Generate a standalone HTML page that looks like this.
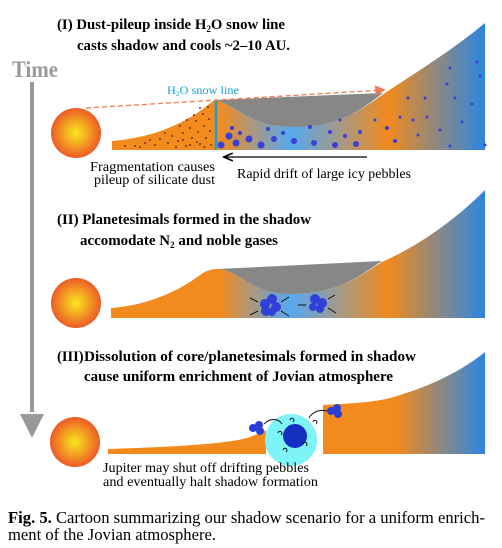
<!DOCTYPE html>
<html><head><meta charset="utf-8">
<style>
html,body{margin:0;padding:0;background:#fff;}
svg{display:block;}
text{font-family:"Liberation Serif",serif;}
</style></head>
<body>
<svg width="502" height="548" viewBox="0 0 502 548" xmlns="http://www.w3.org/2000/svg">
<defs>
<radialGradient id="sun" cx="50%" cy="50%" r="50%">
<stop offset="0" stop-color="#f7e81f"/><stop offset="0.55" stop-color="#f49a22"/><stop offset="1" stop-color="#ec5a26"/>
</radialGradient>
<linearGradient id="disk" x1="0" x2="1" gradientUnits="objectBoundingBox">
<stop offset="0" stop-color="#f28a1e"/><stop offset="0.29" stop-color="#f28a1e"/>
<stop offset="0.48" stop-color="#56a8f0"/><stop offset="0.74" stop-color="#f28a1e"/>
<stop offset="1" stop-color="#2b86e2"/>
</linearGradient>
<linearGradient id="disk3" x1="0" x2="1">
<stop offset="0" stop-color="#f28a1e"/><stop offset="0.45" stop-color="#f28a1e"/>
<stop offset="1" stop-color="#2b86e2"/>
</linearGradient>
<marker id="ah" markerWidth="8" markerHeight="8" refX="6" refY="4" orient="auto"><path d="M0,0 L8,4 L0,8 Z" fill="#f07a55"/></marker>
<marker id="ak" markerWidth="8" markerHeight="8" refX="6" refY="4" orient="auto"><path d="M0,1 L7,4 L0,7" fill="none" stroke="#000" stroke-width="1.2"/></marker>
</defs>

<text x="12" y="77" font-size="23" font-weight="bold" fill="#999" textLength="46" lengthAdjust="spacingAndGlyphs">Time</text>
<rect x="30" y="82" width="4" height="330" fill="#999"/>
<path d="M20,414 L44,414 L32,438 Z" fill="#999"/>

<g>
<text x="57" y="29" font-size="14.5" font-weight="bold" textLength="228" lengthAdjust="spacingAndGlyphs">(I) Dust-pileup inside H<tspan font-size="9" dy="3">2</tspan><tspan dy="-3">O snow line</tspan></text>
<text x="77" y="50" font-size="14.5" font-weight="bold" textLength="213" lengthAdjust="spacingAndGlyphs">casts shadow and cools ~2–10 AU.</text>
<circle cx="76" cy="133" r="25" fill="url(#sun)"/>
<path d="M112,150 L112,141 C150,138 185,125 213,101 L216,100 C240,108 250,126 290,127 C340,128 360,110 385,93 C420,70 455,48 485,23 L485,150 Z" fill="url(#disk)"/>
<path d="M216,100 L383,93 C360,110 340,128 290,127 C250,126 240,108 216,100 Z" fill="#878787"/>
<line x1="216" y1="100" x2="216" y2="150" stroke="#1aa0d8" stroke-width="2.5"/>
<line x1="86" y1="108" x2="383" y2="90" stroke="#f07a55" stroke-width="1.3" stroke-dasharray="5,3" marker-end="url(#ah)"/>
<text x="167" y="94" font-size="12" fill="#1aa0d8" textLength="72" lengthAdjust="spacingAndGlyphs">H<tspan font-size="7" dy="2">2</tspan><tspan dy="-2">O snow line</tspan></text>
<g fill="#6b3a10">
<circle cx="135" cy="146" r="1"/><circle cx="145" cy="143" r="1"/><circle cx="155" cy="145" r="1"/><circle cx="160" cy="139" r="1"/><circle cx="168" cy="143" r="1"/><circle cx="172" cy="136" r="1"/><circle cx="178" cy="141" r="1"/><circle cx="183" cy="133" r="1"/><circle cx="186" cy="146" r="1"/><circle cx="190" cy="128" r="1"/><circle cx="192" cy="138" r="1"/><circle cx="196" cy="121" r="1"/><circle cx="198" cy="132" r="1"/><circle cx="200" cy="144" r="1"/><circle cx="203" cy="114" r="1"/><circle cx="204" cy="126" r="1"/><circle cx="206" cy="138" r="1"/><circle cx="208" cy="107" r="1"/><circle cx="209" cy="119" r="1"/><circle cx="210" cy="131" r="1"/><circle cx="211" cy="145" r="1"/><circle cx="200" cy="108" r="1"/><circle cx="194" cy="115" r="1"/><circle cx="187" cy="120" r="1"/><circle cx="180" cy="126" r="1"/><circle cx="176" cy="147" r="1"/><circle cx="165" cy="133" r="1"/><circle cx="150" cy="140" r="1"/><circle cx="140" cy="147" r="1"/><circle cx="125" cy="146" r="1"/><circle cx="204" cy="147" r="1"/><circle cx="197" cy="142" r="1"/><circle cx="190" cy="145" r="1"/><circle cx="183" cy="140" r="1"/>
</g>
<g fill="#3840d8">
<circle cx="221" cy="145" r="3.5"/><circle cx="229" cy="136" r="3.5"/><circle cx="236" cy="143" r="3.5"/><circle cx="249" cy="139" r="3.5"/><circle cx="261" cy="145" r="3.5"/><circle cx="274" cy="139" r="3"/><circle cx="294" cy="141" r="3"/><circle cx="314" cy="143" r="3"/><circle cx="335" cy="145" r="3"/><circle cx="356" cy="144" r="3"/><circle cx="232" cy="128" r="2"/><circle cx="240" cy="133" r="2"/><circle cx="268" cy="129" r="2"/><circle cx="283" cy="133" r="2"/><circle cx="310" cy="127" r="2"/><circle cx="330" cy="132" r="2"/><circle cx="345" cy="136" r="2"/><circle cx="360" cy="132" r="2"/><circle cx="387" cy="128" r="2"/><circle cx="395" cy="141" r="2"/><circle cx="400" cy="117" r="1.5"/><circle cx="413" cy="120" r="1.5"/><circle cx="427" cy="117" r="1.5"/><circle cx="440" cy="130" r="1.5"/><circle cx="450" cy="146" r="1.5"/><circle cx="462" cy="122" r="1.5"/><circle cx="408" cy="98" r="1.5"/><circle cx="425" cy="98" r="1.5"/><circle cx="447" cy="84" r="1.5"/><circle cx="455" cy="98" r="1.5"/><circle cx="472" cy="104" r="1.5"/><circle cx="477" cy="62" r="1.5"/><circle cx="450" cy="68" r="1.5"/><circle cx="480" cy="76" r="1.5"/><circle cx="340" cy="120" r="1.5"/><circle cx="375" cy="120" r="1.5"/><circle cx="418" cy="135" r="1.5"/><circle cx="485" cy="145" r="1.5"/>
</g>
<line x1="367" y1="157" x2="225" y2="157" stroke="#000" stroke-width="1.3" marker-end="url(#ak)"/>
<text x="90" y="171" font-size="13.5" textLength="125" lengthAdjust="spacingAndGlyphs">Fragmentation causes</text>
<text x="94" y="184" font-size="13.5" textLength="121" lengthAdjust="spacingAndGlyphs">pileup of silicate dust</text>
<text x="237" y="178" font-size="13.5" textLength="174" lengthAdjust="spacingAndGlyphs">Rapid drift of large icy pebbles</text>
</g>

<g>
<text x="57" y="224" font-size="14.5" font-weight="bold" textLength="254" lengthAdjust="spacingAndGlyphs">(II) Planetesimals formed in the shadow</text>
<text x="80" y="245" font-size="14.5" font-weight="bold" textLength="198" lengthAdjust="spacingAndGlyphs">accomodate N<tspan font-size="9" dy="3">2</tspan><tspan dy="-3"> and noble gases</tspan></text>
<circle cx="76" cy="303" r="25" fill="url(#sun)"/>
<path d="M111,318 L111,308 C150,305 180,290 200,275 C208,269 215,269 218,269 C240,270 250,294 290,294 C340,294 360,275 382,262 C420,245 455,220 485,190 L485,318 Z" fill="url(#disk)"/>
<path d="M218,269 L382,261 C360,275 340,294 290,294 C250,294 240,270 218,269 Z" fill="#878787"/>
<g fill="#3040d8">
<circle cx="265" cy="304" r="5"/><circle cx="272" cy="299" r="5"/><circle cx="276" cy="307" r="5"/><circle cx="266" cy="311" r="5"/><circle cx="272" cy="312" r="4"/>
<circle cx="315" cy="299" r="5"/><circle cx="322" cy="303" r="5"/><circle cx="313" cy="307" r="4"/><circle cx="320" cy="309" r="4"/>
</g>
<g stroke="#111" stroke-width="1">
<line x1="250" y1="298" x2="258" y2="302"/><line x1="250" y1="315" x2="258" y2="311"/><line x1="289" y1="297" x2="281" y2="302"/><line x1="289" y1="316" x2="281" y2="311"/>
<line x1="298" y1="305" x2="306" y2="305"/><line x1="335" y1="295" x2="328" y2="299"/><line x1="336" y1="313" x2="328" y2="308"/>
</g>
</g>

<g>
<text x="57" y="361" font-size="14.5" font-weight="bold">(III)</text>
<text x="84" y="361" font-size="14.5" font-weight="bold" textLength="332" lengthAdjust="spacingAndGlyphs">Dissolution of core/planetesimals formed in shadow</text>
<text x="84" y="381" font-size="14.5" font-weight="bold" textLength="309" lengthAdjust="spacingAndGlyphs">cause uniform enrichment of Jovian atmosphere</text>
<circle cx="75" cy="442" r="25" fill="url(#sun)"/>
<path d="M108,454 L108,449 C170,447 230,444 250,437 C258,434 263,432 266,430 L266,454 Z" fill="#f28a1e"/>
<path d="M323,454 L323,405 C360,403 380,402 400,395 C430,386 460,372 485,352 L485,454 Z" fill="url(#disk3)"/>
<circle cx="291" cy="440" r="26" fill="#7ff4f8"/>
<circle cx="295" cy="436" r="12" fill="#1530c0"/>
<g fill="#2b3fd8">
<circle cx="253" cy="428" r="4"/><circle cx="259" cy="425" r="4"/><circle cx="260" cy="431" r="4"/>
<circle cx="331" cy="411" r="4"/><circle cx="337" cy="408" r="4"/><circle cx="338" cy="414" r="4"/>
</g>
<g fill="none" stroke="#111" stroke-width="1">
<path d="M264,424 C270,418 278,418 282,424"/><path d="M327,411 C320,409 312,412 309,418"/>
<path d="M290,420 a2,2 0 1 1 3,2"/><path d="M313,422 a2,2 0 1 1 3,2"/><path d="M278,433 a2,2 0 1 1 3,2"/><path d="M283,450 a2,2 0 1 1 3,2"/><path d="M303,444 a2,2 0 1 1 3,2"/>
</g>
<text x="103" y="472" font-size="13.5" textLength="206" lengthAdjust="spacingAndGlyphs">Jupiter may shut off drifting pebbles</text>
<text x="103" y="486" font-size="13.5" textLength="215" lengthAdjust="spacingAndGlyphs">and eventually halt shadow formation</text>
</g>

<text x="8" y="523" font-size="16.5" textLength="477" lengthAdjust="spacingAndGlyphs"><tspan font-weight="bold">Fig. 5.</tspan> Cartoon summarizing our shadow scenario for a uniform enrich-</text>
<text x="8" y="540" font-size="16.5" textLength="208" lengthAdjust="spacingAndGlyphs">ment of the Jovian atmosphere.</text>
</svg>
</body></html>
